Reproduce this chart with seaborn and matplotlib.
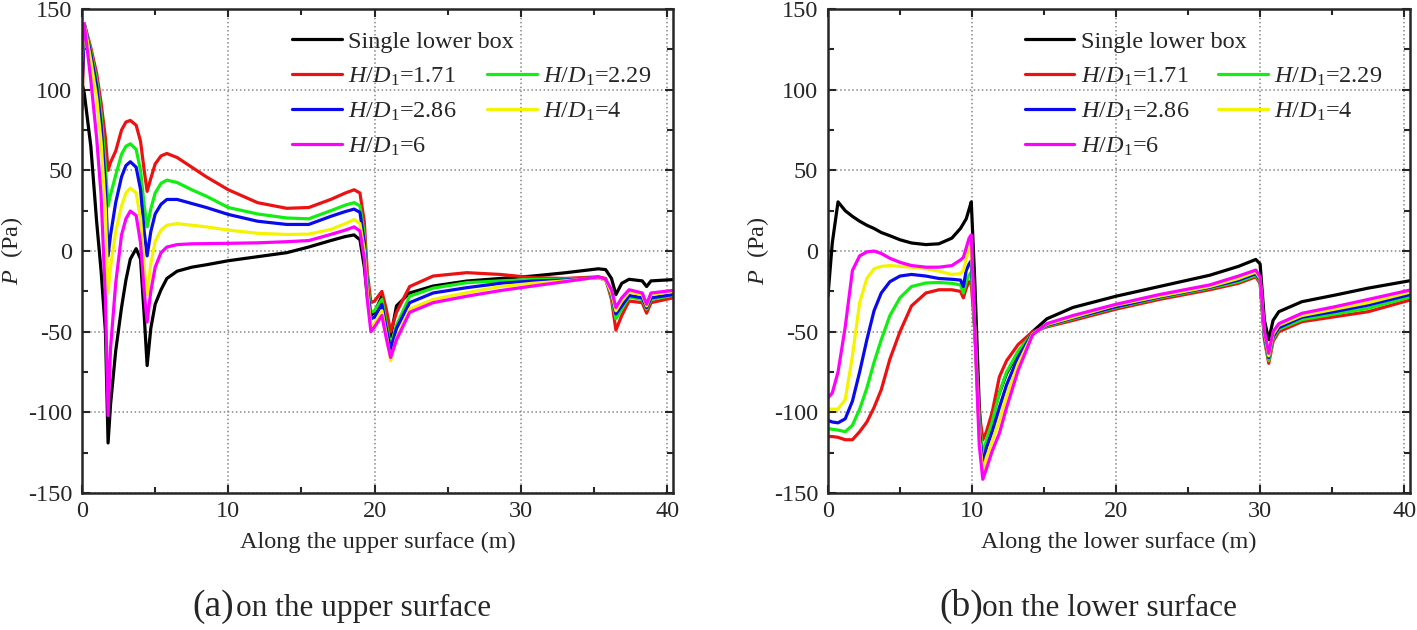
import pandas as pd
import matplotlib
matplotlib.use('Agg')
import matplotlib.pyplot as plt
import seaborn as sns
from matplotlib.lines import Line2D
from matplotlib.ticker import MultipleLocator

# ---- data ----
series = ['Single lower box', '1.71', '2.29', '2.86', '4', '6']
colors = ['#000000', '#ee1111', '#11ee11', '#0a0aee', '#f4f400', '#ff00ff']

# (a) upper surface
x_up = [0, 0.15, 0.6, 1.0, 1.3, 1.6, 1.78, 1.95, 2.3, 2.7, 3.0, 3.3, 3.7, 4.0, 4.25, 4.45,
        4.7, 5.0, 5.4, 5.8, 6.5, 7.5, 8.5, 10, 12, 14, 15.5, 17, 18, 18.6, 19.0, 19.3, 19.5,
        19.75, 20.0, 20.5, 20.8, 21.1, 21.5, 22.4, 24, 26.3, 28.6, 30.8, 33, 35.3, 35.8,
        36.2, 36.5, 36.9, 37.4, 38.3, 38.6, 38.9, 40.4]
up_single = [104, 98, 65, 18, -12, -50, -119, -95, -62, -35, -18, -5, 1.5, -5, -40, -71,
             -48, -33, -24, -17, -12.5, -10, -8.5, -6, -3.5, -1, 2.5, 6.5, 9, 10, 7, -10, -28,
             -40, -38, -28, -40, -53, -34, -26, -21.7, -18.6, -17, -15.5, -13.5, -11, -11.5,
             -17, -27, -20, -17.5, -18.5, -22, -18.5, -17.7]
up_171 = [88, 141, 126, 110, 92, 70, 50, 55, 62, 75, 80, 81, 78, 68, 50, 37,
          45, 54, 59, 60.5, 58, 52, 46, 38, 30, 26.5, 27, 32, 36, 38, 36, 18, -13,
          -32, -31, -25, -36, -50, -38, -22, -15.5, -13.4, -14.5, -16.5, -17, -16, -17,
          -30, -49, -40, -31, -32, -38.5, -32, -29]
up_229 = [128, 141, 124, 106, 85, 52, 28, 35, 47, 60, 65, 66.5, 63, 50, 28, 15,
          26, 36, 42, 44, 42.5, 38, 34, 27, 23, 20.5, 20, 25, 28.5, 30, 28, 10, -18,
          -38, -37, -30, -45, -59, -46, -28, -23, -19.6, -18.5, -17.6, -17.5, -16.5, -17.5,
          -28, -42, -36, -28.5, -30, -36, -30, -27.5]
up_286 = [100, 141, 122, 102, 78, 40, -3, 10, 30, 46, 53, 55.4, 52, 38, 12, -3,
          12, 23, 29, 32, 32, 29.5, 27, 22.7, 18.5, 16.5, 16.5, 21.5, 24.5, 26, 24, 5, -22,
          -42, -41, -33, -48, -61, -48, -32, -26, -22.7, -20, -18.6, -18, -16.5, -18,
          -27, -39, -34, -27.5, -29, -35, -29, -27]
up_4 = [118, 141, 118, 95, 68, 25, -26, -10, 12, 28, 36, 39, 36, 20, -10, -27,
        -8, 6, 13, 16, 17, 16, 15, 13, 11, 10.3, 10.5, 13.4, 17, 19.5, 17, 0, -25,
        -47, -45, -37, -52, -68, -54, -36, -30, -25.8, -22, -20, -18.5, -16.5, -18,
        -26, -37, -31, -25.5, -27, -34, -27, -25]
up_6 = [125, 141, 106, 70, 35, -30, -102, -60, -20, 10, 20, 24.8, 22, 5, -25, -44,
        -25, -10, -1, 2.5, 4, 4.5, 4.6, 4.8, 5.1, 5.8, 6.5, 10.3, 13, 15, 12.4, -5, -30,
        -50, -47, -40, -54, -66, -55, -38, -32, -28, -24.5, -21.7, -19, -16, -17.5,
        -24, -35, -29, -24, -26, -33, -26, -24.4]

# (b) lower surface
x_low = [0, 0.3, 0.7, 1.2, 1.7, 2.2, 2.7, 3.2, 3.7, 4.3, 5.0, 5.8, 6.8, 7.7, 8.6, 9.2, 9.4,
         9.6, 9.8, 9.95, 10.2, 10.5, 10.75, 11.0, 11.4, 11.9, 12.4, 13.2, 14.2, 15.2, 17, 20,
         23, 26.5, 28.5, 29.7, 30.0, 30.3, 30.6, 30.9, 31.3, 32.9, 35.2, 37.5, 40.4]
low_single = [-28, 5, 30.5, 25, 21.5, 18.5, 16, 14, 11.5, 9.5, 7, 5, 4, 4.5, 8, 14, 17,
              20, 26, 30.5, -20, -95, -133, -120, -103, -88, -76, -63, -50, -42, -35, -28,
              -22, -15, -9.5, -5.2, -8, -43, -55, -43, -37.6, -31.4, -27.3, -23, -18.4]
low_171 = [-115, -115, -115.5, -117, -117, -112, -106, -97, -86, -67, -50, -34, -26, -24, -24, -25, -29,
           -23, -19, -20, -50, -100, -117, -112, -100, -78, -68, -58, -50, -47, -43, -36,
           -30, -24, -20, -16, -20, -55, -69.6, -56, -50, -43.8, -40.7, -37.6, -30.4]
low_229 = [-110, -110.5, -111, -112, -108, -98, -85, -69, -55, -40, -29, -22, -19.8, -19.5, -20, -21, -26,
           -19, -15, -13, -50, -105, -127, -117, -106, -88, -75, -62, -51, -46.5, -42, -35,
           -29, -23, -19, -15, -19, -54, -68, -54.5, -48.5, -42.5, -39, -35.5, -28.5]
low_286 = [-105, -106, -106.5, -104, -93, -75, -55, -37, -26, -19, -15.5, -14.5, -15.5, -17, -17.5, -18, -22,
           -12, -8, -6, -50, -110, -133, -122, -112, -97, -83, -66, -51, -46, -41.5, -34.5,
           -28.5, -22.5, -18, -14, -18, -53, -66, -53, -47.5, -41, -37.5, -33.5, -27]
low_4 = [-98, -98, -98, -92, -65, -32, -17, -11, -9.5, -9, -9.5, -10, -11, -12.5, -14.5, -14, -12,
         -5, 2, 3, -50, -115, -137, -128, -118, -105, -90, -70, -51.5, -45.5, -41, -33.5,
         -28, -22, -17, -13, -17, -51, -65, -51.5, -46, -40, -36, -32, -25.5]
low_6 = [-91, -88, -75, -47, -12, -3, -0.5, 0, -1.5, -4.5, -7, -9, -10, -10, -9, -5.5, -4,
         2, 8, 10, -50, -120, -141.5, -135, -124, -113, -97, -74, -52, -45, -40, -33,
         -27, -21, -15.5, -11.8, -16, -50, -63.4, -50, -45, -38.6, -34.5, -30, -24.2]

up_vals = [up_single, up_171, up_229, up_286, up_4, up_6]
low_vals = [low_single, low_171, low_229, low_286, low_4, low_6]


def long_frame(x, vals):
    parts = [pd.DataFrame({'x': x, 'P': v, 'case': s}) for s, v in zip(series, vals)]
    return pd.concat(parts, ignore_index=True)


df_up = long_frame(x_up, up_vals)
df_low = long_frame(x_low, low_vals)

sns.set_style('ticks')
plt.rcParams['font.family'] = ['Liberation Serif', 'DejaVu Serif']
plt.rcParams['mathtext.fontset'] = 'custom'
plt.rcParams['mathtext.rm'] = 'Liberation Serif'
plt.rcParams['mathtext.it'] = 'Liberation Serif:italic'
plt.rcParams['axes.unicode_minus'] = False

FS = 17.5
fig = plt.figure(figsize=(14.17, 6.3), dpi=100)
ax1 = fig.add_axes([0.0579, 0.2175, 0.417, 0.768])
ax2 = fig.add_axes([0.5843, 0.2175, 0.4107, 0.768])

palette = dict(zip(series, colors))
labels = {s: ('Single lower box' if s == series[0] else '$H/D_{\\mathrm{1}}$=' + s) for s in series}

panels = [(ax1, df_up, 'Along the upper surface (m)', 0.355, 0.685),
          (ax2, df_low, 'Along the lower surface (m)', 0.338, 0.670)]
for ax, df, xlab, lx1, lx2 in panels:
    sns.lineplot(data=df, x='x', y='P', hue='case', palette=palette, sort=False,
                 estimator=None, linewidth=2.3, legend=False, ax=ax)
    ax.set_xlim(0, 40.4)
    ax.set_ylim(-150, 150)
    ax.xaxis.set_major_locator(MultipleLocator(10))
    ax.xaxis.set_minor_locator(MultipleLocator(5))
    ax.yaxis.set_major_locator(MultipleLocator(50))
    ax.yaxis.set_minor_locator(MultipleLocator(25))
    ax.tick_params(which='both', direction='in', top=True, right=True, width=1.5,
                   labelsize=FS)
    ax.tick_params(axis='y', pad=7)
    ax.tick_params(axis='x', pad=6)
    ax.tick_params(which='major', length=6)
    ax.tick_params(which='minor', length=4)
    for sp in ax.spines.values():
        sp.set_linewidth(1.8)
    ax.grid(True, which='major', linestyle=':', color='#888888', linewidth=1.1)
    ax.set_xlabel(xlab, fontsize=FS, labelpad=7)
    ax.set_ylabel('$P$  (Pa)', fontsize=FS, labelpad=2)

    # legend: two hand-placed columns, as in the original
    h = {s: Line2D([], [], color=palette[s], linewidth=2.3, label=labels[s]) for s in series}
    blank = Line2D([], [], color='none', label=' ')
    kw = dict(loc='upper left', frameon=False, fontsize=FS, handlelength=2.05,
              handletextpad=0.25, labelspacing=0.52, borderpad=0, borderaxespad=0)
    leg1 = ax.legend(handles=[h[series[0]], h['1.71'], h['2.86'], h['6']],
                     bbox_to_anchor=(lx1, 0.955), **kw)
    ax.add_artist(leg1)
    ax.legend(handles=[blank, h['2.29'], h['4']], bbox_to_anchor=(lx2, 0.955), **kw)

# panel captions
fig.text(0.136, 0.022, '(a)', fontsize=27, va='baseline')
fig.text(0.1666, 0.022, 'on the upper surface', fontsize=22.5, va='baseline')
fig.text(0.6627, 0.022, '(b)', fontsize=27, va='baseline')
fig.text(0.693, 0.022, 'on the lower surface', fontsize=22.5, va='baseline')

fig.savefig('out.png', dpi=100)
